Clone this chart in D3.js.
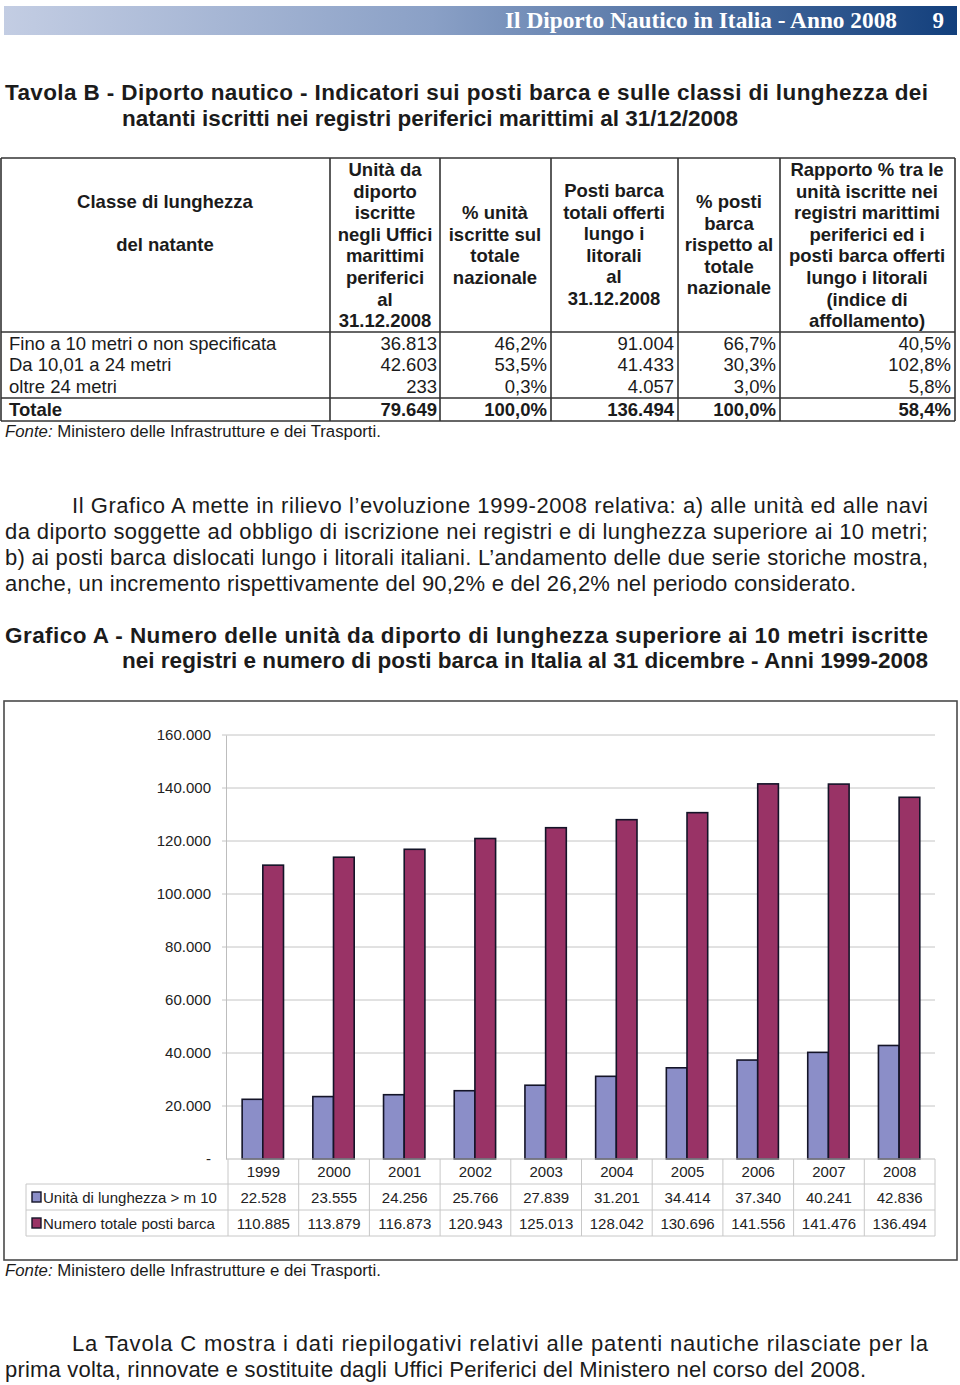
<!DOCTYPE html>
<html><head><meta charset="utf-8">
<script src="https://cdn.jsdelivr.net/npm/d3@7"></script>
<style>
html,body{margin:0;padding:0;background:#fff;}
svg{display:block;font-family:"Liberation Sans",Arial,sans-serif;}
</style></head>
<body>
<svg id="page" width="960" height="1385"></svg>
<script>
// ---------- DATA ----------
const years = ["1999","2000","2001","2002","2003","2004","2005","2006","2007","2008"];
const unita = [22528,23555,24256,25766,27839,31201,34414,37340,40241,42836];
const posti = [110885,113879,116873,120943,125013,128042,130696,141556,141476,136494];
const seriesNames = ["Unità di lunghezza > m 10","Numero totale posti barca"];
const seriesColors = ["#8b8ec8","#993366"];
const yTicks = [0,20000,40000,60000,80000,100000,120000,140000,160000];

const tabClassi = ["Fino a 10 metri o non specificata","Da 10,01 a 24 metri","oltre 24 metri"];
const tabUnita = ["36.813","42.603","233"];
const tabPctUnita = ["46,2%","53,5%","0,3%"];
const tabPosti = ["91.004","41.433","4.057"];
const tabPctPosti = ["66,7%","30,3%","3,0%"];
const tabRapporto = ["40,5%","102,8%","5,8%"];
const tabTotale = ["Totale","79.649","100,0%","136.494","100,0%","58,4%"];

const headClasse = ["Classe di lunghezza","del natante"];
const headUnita = ["Unità da","diporto","iscritte","negli Uffici","marittimi","periferici","al","31.12.2008"];
const headPctUnita = ["% unità","iscritte sul","totale","nazionale"];
const headPosti = ["Posti barca","totali offerti","lungo i","litorali","al","31.12.2008"];
const headPctPosti = ["% posti","barca","rispetto al","totale","nazionale"];
const headRapporto = ["Rapporto % tra le","unità iscritte nei","registri marittimi","periferici ed i","posti barca offerti","lungo i litorali","(indice di","affollamento)"];

const para1 = [
 "Il Grafico A mette in rilievo l’evoluzione 1999-2008 relativa: a) alle unità ed alle navi",
 "da diporto soggette ad obbligo di iscrizione nei registri e di lunghezza superiore ai 10 metri;",
 "b) ai posti barca dislocati lungo i litorali italiani. L’andamento delle due serie storiche mostra,",
 "anche, un incremento rispettivamente del 90,2% e del 26,2% nel periodo considerato."];
const para2 = [
 "La Tavola C mostra i dati riepilogativi relativi alle patenti nautiche rilasciate per la",
 "prima volta, rinnovate e sostituite dagli Uffici Periferici del Ministero nel corso del 2008."];

// ---------- PAGE ----------
const svg = d3.select("#page");
const ink = "#1b1b1b";
const defs = svg.append("defs");
const grad = defs.append("linearGradient").attr("id","hdr").attr("x1","0").attr("x2","1");
grad.append("stop").attr("offset","0").attr("stop-color","#c3cde3");
grad.append("stop").attr("offset","0.45").attr("stop-color","#8aa0c6");
grad.append("stop").attr("offset","1").attr("stop-color","#123f7c");
svg.append("rect").attr("x",4).attr("y",6).attr("width",953).attr("height",29).attr("fill","url(#hdr)");
svg.append("text").attr("x",897).attr("y",28).attr("text-anchor","end")
  .attr("font-family","'Liberation Serif','Times New Roman',serif").attr("font-weight","bold")
  .attr("font-size",23).attr("fill","#fff").attr("textLength",392).attr("lengthAdjust","spacingAndGlyphs")
  .text("Il Diporto Nautico in Italia - Anno 2008");
svg.append("text").attr("x",944).attr("y",28).attr("text-anchor","end")
  .attr("font-family","'Liberation Serif','Times New Roman',serif").attr("font-weight","bold")
  .attr("font-size",23).attr("fill","#fff").text("9");

function line(txt,x,y,w,opts){
  opts=opts||{};
  const t = svg.append("text").attr("x",x).attr("y",y).attr("font-size",opts.size||22)
    .attr("fill",ink).attr("font-weight",opts.bold?"bold":"normal").text(txt);
  if(w) t.attr("textLength",w).attr("lengthAdjust","spacing");
  return t;
}
// Title Tavola B
line("Tavola B - Diporto nautico - Indicatori sui posti barca e sulle classi di lunghezza dei",5,100,923,{bold:true,size:22.5});
line("natanti iscritti nei registri periferici marittimi al 31/12/2008",122,126,616,{bold:true,size:22.5});

// ---------- TABLE ----------
const colX = [1,330,440,551,678,780,955];
const tTop=158, tHead=332, tTot=398, tBot=421;
const tg = svg.append("g").attr("stroke","#333").attr("stroke-width",1.6);
colX.forEach(x=>tg.append("line").attr("x1",x).attr("x2",x).attr("y1",tTop).attr("y2",tBot));
[tTop,tHead,tTot,tBot].forEach(y=>tg.append("line").attr("x1",colX[0]).attr("x2",colX[6]).attr("y1",y).attr("y2",y));

const tfs = 18.5;
function headCol(lines,cx,firstY){
  lines.forEach((s,i)=>svg.append("text").attr("x",cx).attr("y",firstY+i*21.6)
    .attr("text-anchor","middle").attr("font-size",tfs).attr("font-weight","bold").attr("fill",ink).text(s));
}
headCol([headClasse[0]],165,208);
headCol([headClasse[1]],165,251);
headCol(headUnita,385,176);
headCol(headPctUnita,495,219);
headCol(headPosti,614,197);
headCol(headPctPosti,729,208);
headCol(headRapporto,867,176);

const rowY=[350,371,393];
const rightX=[437,547,674,776,951];
const cols=[tabUnita,tabPctUnita,tabPosti,tabPctPosti,tabRapporto];
tabClassi.forEach((c,i)=>{
  svg.append("text").attr("x",9).attr("y",rowY[i]).attr("font-size",tfs).attr("fill",ink).text(c);
  cols.forEach((col,j)=>svg.append("text").attr("x",rightX[j]).attr("y",rowY[i]).attr("text-anchor","end")
    .attr("font-size",tfs).attr("fill",ink).text(col[i]));
});
svg.append("text").attr("x",9).attr("y",416).attr("font-size",tfs).attr("font-weight","bold").attr("fill",ink).text(tabTotale[0]);
tabTotale.slice(1).forEach((v,j)=>svg.append("text").attr("x",rightX[j]).attr("y",416).attr("text-anchor","end")
  .attr("font-size",tfs).attr("font-weight","bold").attr("fill",ink).text(v));

function fonte(y){
  const t=svg.append("text").attr("x",5).attr("y",y).attr("font-size",16.8).attr("fill",ink);
  t.append("tspan").attr("font-style","italic").text("Fonte:");
  t.append("tspan").text(" Ministero delle Infrastrutture e dei Trasporti.");
}
fonte(437);

// Paragraph 1
const p1x=[72,5,5,5], p1w=[856,923,923,851];
para1.forEach((s,i)=>line(s,p1x[i],513+i*26,p1w[i]));

// Grafico title
line("Grafico A - Numero delle unità da diporto di lunghezza superiore ai 10 metri iscritte",5,643,923,{bold:true,size:22.5});
line("nei registri e numero di posti barca in Italia al 31 dicembre - Anni 1999-2008",122,668,806,{bold:true,size:22.5});

// ---------- CHART ----------
svg.append("rect").attr("x",4).attr("y",701).attr("width",953).attr("height",559)
  .attr("fill","none").attr("stroke","#4a4a4a").attr("stroke-width",1.6);

const itLocale = d3.formatLocale({decimal:",",thousands:".",grouping:[3],currency:["€",""]});
const fmt = itLocale.format(",d");

const x0 = d3.scaleBand().domain(years).range([228,935]).paddingInner(0).paddingOuter(0);
const x1 = d3.scaleBand().domain([0,1]).range([x0.bandwidth()*0.2, x0.bandwidth()*0.785]).padding(0);
const y = d3.scaleLinear().domain([0,160000]).range([1159,735]);

// gridlines
svg.append("g").selectAll("line").data(yTicks.slice(1)).join("line")
  .attr("x1",222).attr("x2",935).attr("y1",d=>y(d)).attr("y2",d=>y(d))
  .attr("stroke","#c4c4c4").attr("stroke-width",1);

const yAxis = d3.axisLeft(y).tickValues(yTicks).tickSize(0).tickPadding(15)
  .tickFormat(d=>d===0?"-":fmt(d));
const ya = svg.append("g").attr("transform","translate(226,0)").call(yAxis);
ya.select(".domain").attr("stroke","#bdbdbd");
ya.selectAll("text").attr("font-size",15).attr("fill","#222").attr("font-family","'Liberation Sans',Arial,sans-serif");

const seriesData = [unita,posti];
const bg = svg.append("g");
years.forEach((yr,i)=>{
  [0,1].forEach(s=>{
    const v=seriesData[s][i];
    bg.append("rect").attr("x",x0(yr)+x1(s)).attr("y",y(v))
      .attr("width",x1.bandwidth()).attr("height",y(0)-y(v))
      .attr("fill",seriesColors[s]).attr("stroke","#141428").attr("stroke-width",1.6);
  });
});

// data table
const dtTop=1159, dtRows=[1184,1210,1236];
const dg = svg.append("g").attr("stroke","#c8c8c8").attr("stroke-width",1);
dg.append("line").attr("x1",226).attr("x2",935).attr("y1",dtTop).attr("y2",dtTop).attr("stroke","#bdbdbd");
dtRows.forEach(yy=>dg.append("line").attr("x1",26).attr("x2",935).attr("y1",yy).attr("y2",yy));
d3.range(years.length+1).forEach(k=>{
  const xx = k<years.length? x0(years[k]) : x0(years[years.length-1])+x0.bandwidth();
  dg.append("line").attr("x1",xx).attr("x2",xx).attr("y1",dtTop).attr("y2",dtRows[2]);
});
dg.append("line").attr("x1",26).attr("x2",26).attr("y1",dtRows[0]).attr("y2",dtRows[2]);

const dfs = 15;
years.forEach((yr,i)=>{
  const cx=x0(yr)+x0.bandwidth()/2;
  svg.append("text").attr("x",cx).attr("y",1177).attr("text-anchor","middle").attr("font-size",dfs).attr("fill","#222").text(yr);
  svg.append("text").attr("x",cx).attr("y",1203).attr("text-anchor","middle").attr("font-size",dfs).attr("fill","#222").text(fmt(unita[i]));
  svg.append("text").attr("x",cx).attr("y",1229).attr("text-anchor","middle").attr("font-size",dfs).attr("fill","#222").text(fmt(posti[i]));
});
seriesNames.forEach((n,s)=>{
  const cy=[1197,1223][s];
  svg.append("rect").attr("x",32).attr("y",cy-5).attr("width",9).attr("height",10)
    .attr("fill",seriesColors[s]).attr("stroke","#141428").attr("stroke-width",1.4);
  svg.append("text").attr("x",43).attr("y",cy+5.5).attr("font-size",dfs).attr("fill","#222").text(n);
});

fonte(1276);

// Paragraph 2
line(para2[0],72,1351,856);
line(para2[1],5,1377,861);
</script>
</body></html>
